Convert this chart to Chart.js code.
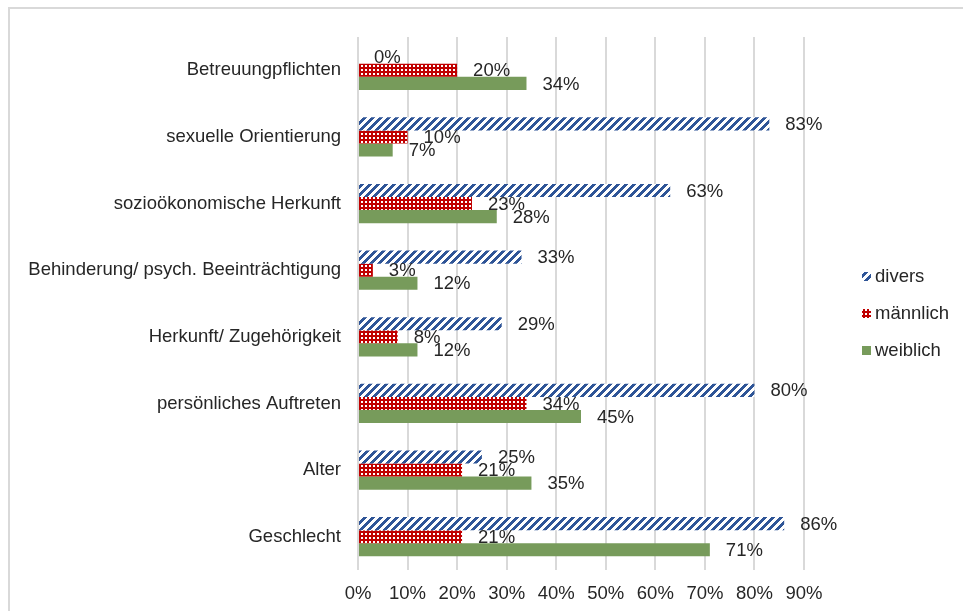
<!DOCTYPE html>
<html>
<head>
<meta charset="utf-8">
<script src="https://cdn.jsdelivr.net/npm/chart.js@4"></script>
<style>
  html, body { margin: 0; padding: 0; background: #ffffff; overflow: hidden; }
  #frame {
    position: absolute; left: 8px; top: 7px; width: 1000px; height: 700px;
    border: 2px solid #d9d9d9;
  }
  #chart { position: absolute; left: 0; top: 0; }
</style>
</head>
<body>
<div id="frame"></div>
<canvas id="chart" width="963" height="611"></canvas>
<script>
// Category labels, top to bottom
const categories = [
  'Betreuungpflichten',
  'sexuelle Orientierung',
  'sozioökonomische Herkunft',
  'Behinderung/ psych. Beeinträchtigung',
  'Herkunft/ Zugehörigkeit',
  'persönliches Auftreten',
  'Alter',
  'Geschlecht',
];

const seriesNames = ['divers', 'männlich', 'weiblich'];

// values in percent
const divers    = [0, 83, 63, 33, 29, 80, 25, 86];
const maennlich = [20, 10, 23, 3, 8, 34, 21, 21];
const weiblich  = [34, 7, 28, 12, 12, 45, 35, 71];

const xTicks = [0, 10, 20, 30, 40, 50, 60, 70, 80, 90];

const FONT = 'Liberation Sans, Arial, sans-serif';
const FSIZE = 18.5;
const TEXT = '#262626';
const GRID = '#d9d9d9';

const BLUE  = '#2f5597';
const RED   = '#c00000';
const GREEN = '#779b5b';

function stripePattern(ctx) {
  const c = document.createElement('canvas');
  c.width = 8; c.height = 8;
  const g = c.getContext('2d');
  g.fillStyle = '#ffffff';
  g.fillRect(0, 0, 8, 8);
  g.fillStyle = BLUE;
  for (let y = 0; y < 8; y++) {
    for (let x = 0; x < 8; x++) {
      if ((x + y) % 8 < 4) g.fillRect(x, y, 1, 1);
    }
  }
  return ctx.createPattern(c, 'repeat');
}

function dotPattern(ctx) {
  const c = document.createElement('canvas');
  c.width = 4; c.height = 4;
  const g = c.getContext('2d');
  g.fillStyle = RED;
  g.fillRect(0, 0, 4, 4);
  g.fillStyle = '#ffffff';
  g.fillRect(1, 1, 2, 2);
  return ctx.createPattern(c, 'repeat');
}

const canvas = document.getElementById('chart');
const ctx = canvas.getContext('2d');

const fills = [stripePattern(ctx), dotPattern(ctx), GREEN];
const values = [divers, maennlich, weiblich];

const valueLabels = {
  id: 'valueLabels',
  afterDatasetsDraw(chart) {
    const c = chart.ctx;
    c.save();
    c.font = `${FSIZE}px ${FONT}`;
    c.fillStyle = TEXT;
    c.textAlign = 'left';
    c.textBaseline = 'middle';
    chart.data.datasets.forEach((ds, i) => {
      chart.getDatasetMeta(i).data.forEach((bar, j) => {
        c.fillText(ds.data[j] + '%', bar.x + 16, bar.y + 1);
      });
    });
    c.restore();
  },
};

// legend drawn by hand so it can sit away from the plot
const sideLegend = {
  id: 'sideLegend',
  afterDraw(chart) {
    const { ctx: c, chartArea } = chart;
    const x = chartArea.right + 58;
    const mid = (chartArea.top + chartArea.bottom) / 2 + 9.5;
    c.save();
    c.font = `${FSIZE}px ${FONT}`;
    c.textBaseline = 'middle';
    c.textAlign = 'left';
    chart.data.datasets.forEach((ds, i) => {
      const y = mid + (i - 1) * 37;
      c.fillStyle = ds.backgroundColor;
      c.fillRect(x, y - 4, 9, 9);
      c.fillStyle = TEXT;
      c.fillText(ds.label, x + 13, y + 1);
    });
    c.restore();
  },
};

new Chart(canvas, {
  type: 'bar',
  data: {
    labels: categories,
    datasets: seriesNames.map((name, i) => ({
      label: name,
      data: values[i],
      backgroundColor: fills[i],
      borderWidth: 0,
      categoryPercentage: 0.59,
      barPercentage: 1,
    })),
  },
  options: {
    indexAxis: 'y',
    responsive: false,
    devicePixelRatio: 1,
    animation: false,
    layout: { padding: { top: 37, right: 159, left: 0, bottom: 0 } },
    plugins: {
      legend: { display: false },
      tooltip: { enabled: false },
    },
    scales: {
      x: {
        min: 0,
        max: 90,
        afterBuildTicks: s => { s.ticks = xTicks.map(v => ({ value: v })); },
        afterFit: s => { s.height = 41; },
        ticks: {
          color: TEXT,
          font: { family: FONT, size: FSIZE },
          padding: 13,
          callback: v => v + '%',
        },
        grid: { color: GRID, lineWidth: 2, drawTicks: false },
        border: { display: false },
      },
      y: {
        afterFit: s => { s.width = 358; },
        ticks: {
          color: TEXT,
          font: { family: FONT, size: FSIZE },
          padding: 17,
          autoSkip: false,
        },
        grid: { display: false, drawTicks: false },
        border: { display: false },
      },
    },
  },
  plugins: [valueLabels, sideLegend],
});
</script>
</body>
</html>
